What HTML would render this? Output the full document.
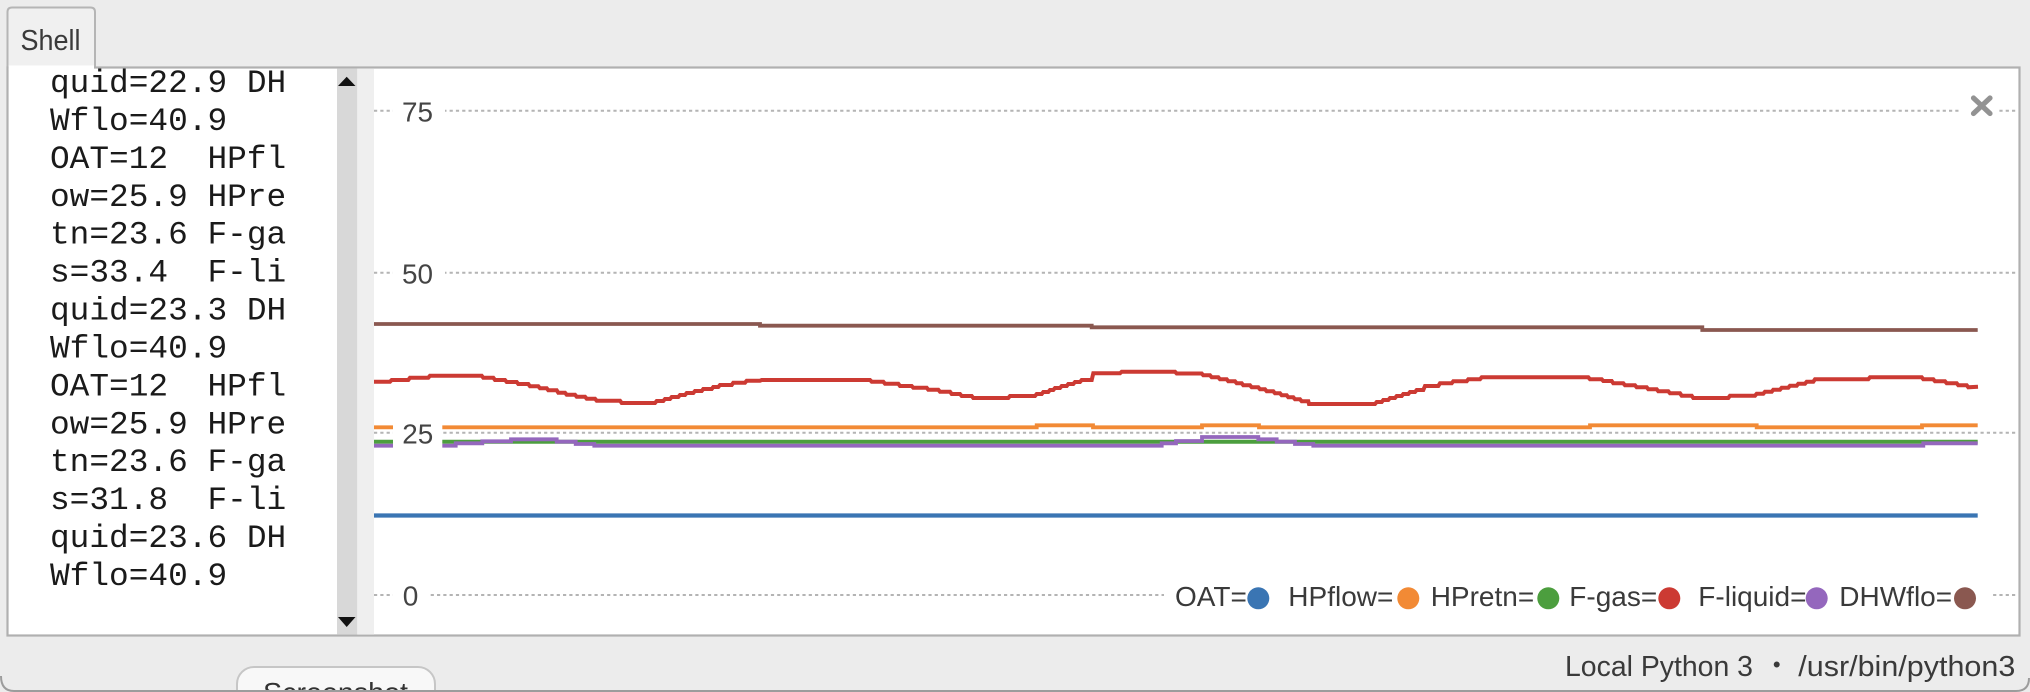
<!DOCTYPE html>
<html>
<head>
<meta charset="utf-8">
<style>
html,body{margin:0;padding:0;background:#ececec;}
body{width:2030px;height:692px;overflow:hidden;}
svg{display:block;}
.mono{font-family:"Liberation Mono",monospace;font-size:32.8px;fill:#1a1a1a;}
.sans{font-family:"Liberation Sans",sans-serif;}
.tick{font-family:"Liberation Sans",sans-serif;font-size:28px;fill:#444;}
.leg{font-family:"Liberation Sans",sans-serif;font-size:28px;fill:#3a3a3a;}
</style>
</head>
<body>
<svg width="2030" height="692" viewBox="0 0 2030 692" xmlns="http://www.w3.org/2000/svg">
  <rect x="0" y="0" width="2030" height="692" fill="#ececec"/>

  <!-- Shell tab -->
  <path d="M7.5,68 V12 Q7.5,7.5 12,7.5 H90.5 Q95,7.5 95,12 V68" fill="#f0f0f0" stroke="#b5b5b5" stroke-width="2"/>
  <text x="20.5" y="50" class="sans" font-size="29" fill="#3a3a3a" textLength="60" lengthAdjust="spacingAndGlyphs">Shell</text>

  <!-- main panel -->
  <rect x="7.5" y="67.5" width="2012" height="568" fill="#ffffff" stroke="#b0b0b0" stroke-width="2.2"/>
  <rect x="8.6" y="65.5" width="85.4" height="4" fill="#ffffff"/>

  <!-- scrollbar -->
  <rect x="337" y="68.6" width="20.3" height="566" fill="#d8d8d8"/>
  <rect x="357.3" y="68.6" width="16.7" height="566" fill="#efefef"/>
  <polygon points="338,86 355.5,86 346.7,76.7" fill="#111"/>
  <polygon points="338,617 355.5,617 346.7,627" fill="#111"/>

  <!-- shell text -->
  <g class="mono">
    <text x="50" y="92">quid=22.9&#160;DH</text>
    <text x="50" y="129.9">Wflo=40.9</text>
    <text x="50" y="167.8">OAT=12&#160;&#160;HPfl</text>
    <text x="50" y="205.8">ow=25.9&#160;HPre</text>
    <text x="50" y="243.7">tn=23.6&#160;F-ga</text>
    <text x="50" y="281.6">s=33.4&#160;&#160;F-li</text>
    <text x="50" y="319.5">quid=23.3&#160;DH</text>
    <text x="50" y="357.4">Wflo=40.9</text>
    <text x="50" y="395.4">OAT=12&#160;&#160;HPfl</text>
    <text x="50" y="433.3">ow=25.9&#160;HPre</text>
    <text x="50" y="471.2">tn=23.6&#160;F-ga</text>
    <text x="50" y="509.1">s=31.8&#160;&#160;F-li</text>
    <text x="50" y="547">quid=23.6&#160;DH</text>
    <text x="50" y="585">Wflo=40.9</text>
  </g>

  <!-- gridlines -->
  <g stroke="#b4b4b4" stroke-width="2" stroke-dasharray="3.2 3.1" fill="none">
    <line x1="374" y1="110.7" x2="2018" y2="110.7"/>
    <line x1="374" y1="272.7" x2="2018" y2="272.7"/>
    <line x1="374" y1="432.7" x2="2018" y2="432.7"/>
    <line x1="374" y1="595" x2="2018" y2="595"/>
  </g>

  <!-- series -->
  <g fill="none" stroke-linejoin="miter" stroke-linecap="butt">
    <path d="M374,515.5 H1977.7" stroke="#3a75b3" stroke-width="4.2"/>
    <path d="M374,324 H760 V325.7 H1091.7 V327.3 H1702.3 V330 H1977.7" stroke="#8a5850" stroke-width="3.8"/>
    <path d="M374,427.3 H1036.7 V425.3 H1093 V427.3 H1202 V425.3 H1259 V427.3 H1590 V425.3 H1756.7 V427.3 H1922 V425.3 H1977.7" stroke="#f28a35" stroke-width="3.8"/>
    <path d="M374,441.7 H1977.7" stroke="#4c9e3e" stroke-width="4"/>
    <path d="M374,445.7 H455.7 V443.3 H482.3 V441.3 H511 V439.3 H556.7 V441.7 H575.7 V444 H594.3 V445.7 H1161.7 V443.3 H1176 V441 H1202 V437 H1258.3 V439.3 H1276.7 V441.7 H1295 V444 H1313.3 V445.7 H1923.3 V443.3 H1977.7" stroke="#9467bd" stroke-width="3.8"/>
    <polyline stroke="#cc3a33" stroke-width="4" points="
374,381.7 390,381.7 391.7,380 408.3,380 410,377.7 428.3,377.7 430,375.7 481.7,375.7 483.3,377.7 493.3,377.7 495,380 505,380 506.7,382 516.7,382 518.3,384 528.3,384 530,386.3 538.3,386.3 540,388.3 546.7,388.3 548.3,390.3 556.7,390.3 558.3,392.7 565,392.7 566.7,394.7 575,394.7 576.7,396.7 585,396.7 586.7,398.7 595,398.7 596.7,400.7 620,400.7 621.7,403 655,403 656.7,401 663.3,401 665,399 670,399 671.7,397 678.3,397 680,395 685,395 686.7,393 693.3,393 695,391 701.7,391 703.3,389 711.7,389 713.3,387 718.3,387 720,385 731.7,385 733.3,382.7 745,382.7 746.7,380.7 760,380.7 761.7,380
870,380 871.7,381.7 883.3,381.7 885,383.7 898.3,383.7 900,386 911.7,386 913.3,387.7 926.7,387.7 928.3,389.7 938.3,389.7 940,391.7 950,391.7 951.7,394 960,394 961.7,396 971.7,396 973.3,398 1008.3,398 1010,396 1035,396 1036.7,394 1041.7,394 1043.3,392 1048.3,392 1050,390 1053.3,390 1055,388 1060,388 1061.7,386 1066.7,386 1068.3,384 1073.3,384 1075,382 1080,382 1081.7,380 1091.7,380 1093.3,373.3 1120,373.3 1121.7,371.7 1175,371.7 1176.7,373.5
1201.7,373.5 1203.3,375.3 1210,375.3 1211.7,377.3 1218.3,377.3 1220,379.3 1226.7,379.3 1228.3,381.3 1235,381.3 1236.7,383.3 1241.7,383.3 1243.3,385.3 1250,385.3 1251.7,387.3 1258.3,387.3 1260,389.3 1265,389.3 1266.7,391.3 1273.3,391.3 1275,393.3 1280,393.3 1281.7,395.3 1286.7,395.3 1288.3,397.3 1293.3,397.3 1295,399.3 1300,399.3 1301.7,401.3 1308.3,401.3 1309,404 1375,404 1376.7,402 1381.7,402 1383.3,400 1388.3,400 1390,398 1395,398 1396.7,396 1401.7,396 1403.3,394 1408.3,394 1410,392 1415,392 1416.7,390 1423.3,390 1425,386 1438.3,386 1440,383.3 1451.7,383.3 1453.3,381.3 1466.7,381.3 1468.3,379.3 1480,379.3 1481.7,377.3 1588.3,377.3 1590,379.3
1601.7,379.3 1603.3,381 1611.7,381 1613.3,383.3 1623.3,383.3 1625,385.3 1635,385.3 1636.7,387.3 1646.7,387.3 1648.3,389.3 1656.7,389.3 1658.3,391.3 1668.3,391.3 1670,393.3 1680,393.3 1681.7,395.7 1691.7,395.7 1693.3,398 1728.3,398 1730,395.7 1755,395.7 1756.7,393.7 1763.3,393.7 1765,391.7 1771.7,391.7 1773.3,389.7 1780,389.7 1781.7,387.7 1788.3,387.7 1790,385.7 1796.7,385.7 1798.3,383.7 1805,383.7 1806.7,381.7 1813.3,381.7 1815,379.3 1868.3,379.3 1870,377.3 1921.7,377.3 1923.3,379.3 1933.3,379.3 1935,381.3 1945,381.3 1946.7,383.3 1956.7,383.3 1958.3,385.3 1966.7,385.3 1968.3,387.3 1978,386.7"/>
  </g>

  <!-- tick labels with white boxes -->
  <rect x="393" y="93" width="52" height="36" fill="#fff"/>
  <text x="402" y="121.6" class="tick" textLength="31" lengthAdjust="spacingAndGlyphs">75</text>
  <rect x="393" y="255" width="52" height="36" fill="#fff"/>
  <text x="402" y="283.6" class="tick" textLength="31" lengthAdjust="spacingAndGlyphs">50</text>
  <rect x="393" y="415" width="49.3" height="36" fill="#fff"/>
  <text x="402.3" y="443.4" class="tick" textLength="31" lengthAdjust="spacingAndGlyphs">25</text>
  <rect x="393" y="578" width="37" height="36" fill="#fff"/>
  <text x="402.7" y="605.5" class="tick" textLength="15.6" lengthAdjust="spacingAndGlyphs">0</text>

  <!-- close X -->
  <rect x="1960" y="92" width="38" height="30" fill="#fff"/>
  <g stroke="#939393" stroke-width="5.2" stroke-linecap="round">
    <line x1="1973.5" y1="98" x2="1990" y2="113.5"/>
    <line x1="1990" y1="98" x2="1973.5" y2="113.5"/>
  </g>

  <!-- legend -->
  <rect x="1164" y="578" width="826" height="36" fill="#fff"/>
  <g class="leg">
    <text x="1175" y="606">OAT=</text>
    <text x="1288.3" y="606">HPflow=</text>
    <text x="1430.7" y="606">HPretn=</text>
    <text x="1569.3" y="606">F-gas=</text>
    <text x="1698.3" y="606">F-liquid=</text>
    <text x="1839.3" y="606">DHWflo=</text>
  </g>
  <circle cx="1258.3" cy="598.3" r="11" fill="#3a75b3"/>
  <circle cx="1408.3" cy="598.3" r="11" fill="#f28a35"/>
  <circle cx="1548.3" cy="598.3" r="11" fill="#4c9e3e"/>
  <circle cx="1669.3" cy="598.3" r="11" fill="#cc3a33"/>
  <circle cx="1816.7" cy="598.3" r="11" fill="#9467bd"/>
  <circle cx="1965" cy="598.3" r="11" fill="#8a5850"/>

  <!-- status bar -->
  <g class="sans" font-size="28.5" fill="#3a3a3a">
    <text x="1565" y="676" textLength="188" lengthAdjust="spacingAndGlyphs">Local Python 3</text>
    <text x="1776.7" y="672" text-anchor="middle" font-size="22">•</text>
    <text x="1798.3" y="676" textLength="217" lengthAdjust="spacingAndGlyphs">/usr/bin/python3</text>
  </g>

  <!-- Screenshot button (partially visible) -->
  <rect x="237" y="667" width="198" height="50" rx="17" fill="#f8f8f8" stroke="#c6c6c6" stroke-width="2"/>
  <text x="263" y="702" class="sans" font-size="28" fill="#333" textLength="145" lengthAdjust="spacingAndGlyphs">Screenshot</text>

  <!-- window bottom edge -->
  <path d="M1,676 Q1,691 14,691 H2016 Q2029,691 2029,678" fill="none" stroke="#9c9c9c" stroke-width="2"/>
</svg>
</body>
</html>
